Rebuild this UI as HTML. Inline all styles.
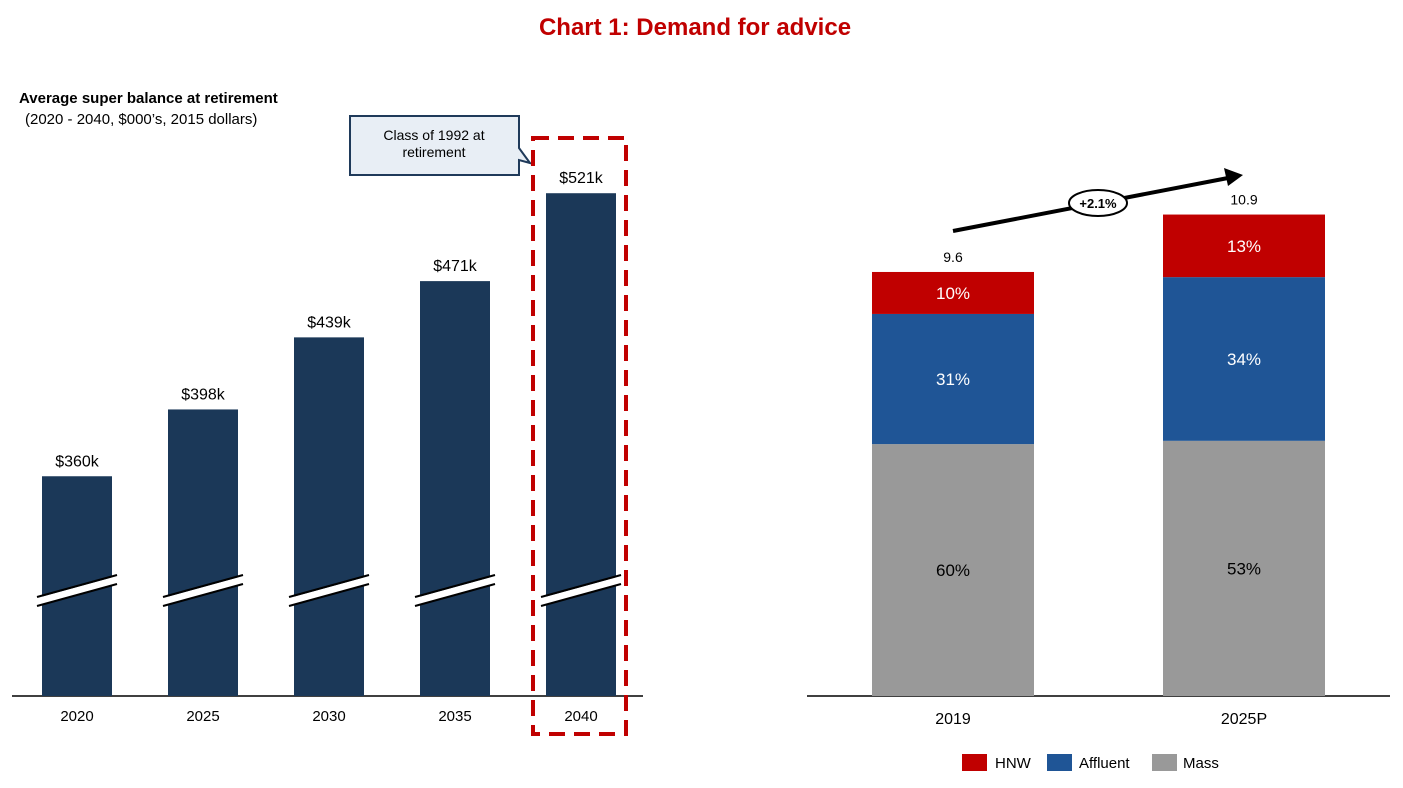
<!DOCTYPE html>
<html><head><meta charset="utf-8"><style>
body{margin:0;background:#fff;font-family:"Liberation Sans",sans-serif}
svg text{font-family:"Liberation Sans",sans-serif}
</style></head><body>
<svg width="1403" height="783" viewBox="0 0 1403 783">
<text x="695" y="35" text-anchor="middle" font-size="24" font-weight="bold" fill="#c00000">Chart 1: Demand for advice</text>
<text x="19" y="103" font-size="15" font-weight="bold" fill="#000">Average super balance at retirement</text>
<text x="25" y="124" font-size="15" fill="#000">(2020 - 2040, $000’s, 2015 dollars)</text>
<g id="left"></g>
<g>
<path d="M350,116 H519 V148 L530,163 L519,160 V175 H350 Z" fill="#e8eef5" stroke="#1f3a5a" stroke-width="2"/>
<text x="434" y="140" text-anchor="middle" font-size="14">Class of 1992 at</text>
<text x="434" y="157" text-anchor="middle" font-size="14">retirement</text>
</g>
<rect x="533" y="138" width="93" height="596" fill="none" stroke="#c00000" stroke-width="4" stroke-dasharray="16,9"/>
<g id="right"></g>
<g>
<line x1="953" y1="231" x2="1228" y2="178" stroke="#000" stroke-width="4"/>
<polygon points="1243,175 1224,168 1228,186" fill="#000"/>
<ellipse cx="1098" cy="203" rx="29" ry="13" fill="#fff" stroke="#000" stroke-width="2"/>
<text x="1098" y="208" text-anchor="middle" font-size="13" font-weight="bold">+2.1%</text>
</g>
<g>
<rect x="962" y="754" width="25" height="17" fill="#c00000"/><text x="995" y="768" font-size="15">HNW</text>
<rect x="1047" y="754" width="25" height="17" fill="#1f5596"/><text x="1079" y="768" font-size="15">Affluent</text>
<rect x="1152" y="754" width="25" height="17" fill="#999999"/><text x="1183" y="768" font-size="15">Mass</text>
</g>
</svg>
<script>
const NS="http://www.w3.org/2000/svg";
const leftCats=["2020","2025","2030","2035","2040"];
const leftVals=[360,398,439,471,521];
const rightCats=["2019","2025P"];
const rightTotals=[9.6,10.9];
const massShare=[60,53];
const affluentShare=[31,34];
const hnwShare=[10,13];
function mk(tag,attrs,parent){const e=document.createElementNS(NS,tag);for(const k in attrs)e.setAttribute(k,attrs[k]);parent.appendChild(e);return e;}
const base=696;
const yL=v=>base-(v-235)*1.758;
const xL=i=>42+i*126;
const L=document.getElementById('left');
mk('line',{x1:12,y1:base,x2:643,y2:base,stroke:'#000','stroke-width':1.5},L);
leftVals.forEach((v,i)=>{
 const r=mk('rect',{x:xL(i),y:yL(v),width:70,height:base-yL(v),fill:'#1b3858'},L);
 
 
 const cx=xL(i)+35;
 mk('polygon',{points:`${cx-40},${598} ${cx+40},${576} ${cx+40},${584} ${cx-40},${606}`,fill:'#fff'},L);
 mk('line',{x1:cx-40,y1:597,x2:cx+40,y2:575,stroke:'#000','stroke-width':2},L);
 mk('line',{x1:cx-40,y1:606,x2:cx+40,y2:584,stroke:'#000','stroke-width':2},L);
 const t=mk('text',{x:cx,y:yL(v)-10,'text-anchor':'middle','font-size':16},L);t.textContent='$'+v+'k';
 
 
 const c=mk('text',{x:cx,y:721,'text-anchor':'middle','font-size':15},L);c.textContent=leftCats[i];
 
 
});
const R=document.getElementById('right');
const hR=v=>v*44.17;
const xR=i=>872+i*291;
mk('line',{x1:807,y1:base,x2:1390,y2:base,stroke:'#000','stroke-width':1.5},R);
rightTotals.forEach((tot,i)=>{
 const H=hR(tot);const sum=massShare[i]+affluentShare[i]+hnwShare[i];
 let y=base;
 [[massShare,'#999999','mass'],[affluentShare,'#1f5596','affluent'],[hnwShare,'#c00000','hnw']].forEach(([arr,col,nm])=>{
  const h=H*arr[i]/sum;y-=h;
  const r=mk('rect',{x:xR(i),y:y,width:162,height:h,fill:col},R);
  
  
  const t=mk('text',{x:xR(i)+81,y:y+h/2+6,'text-anchor':'middle','font-size':17,fill:nm=='mass'?'#000':'#fff'},R);t.textContent=arr[i]+'%';
 });
 const tt=mk('text',{x:xR(i)+81,y:base-H-10,'text-anchor':'middle','font-size':14},R);tt.textContent=tot;
 
 
 const c=mk('text',{x:xR(i)+81,y:724,'text-anchor':'middle','font-size':16},R);c.textContent=rightCats[i];
 
 
});
</script>
</body></html>
